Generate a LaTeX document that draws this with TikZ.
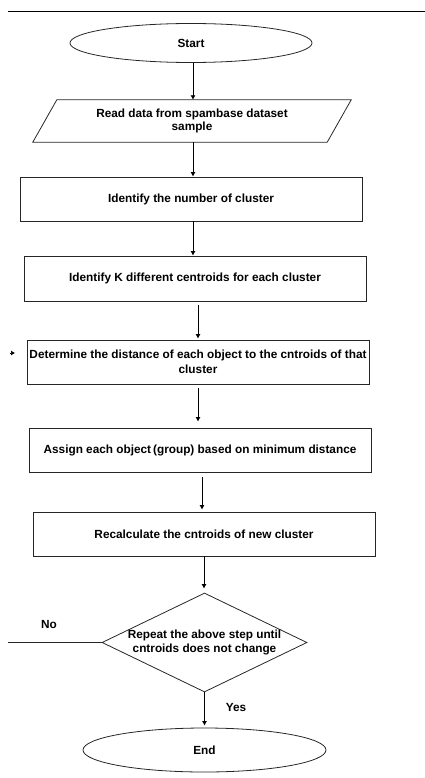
\documentclass[tikz,border=0pt]{standalone}
\usepackage{fontspec}
\setmainfont{Liberation Sans}
\usetikzlibrary{shapes.geometric,arrows.meta,calc}
\begin{document}
\begin{tikzpicture}[x=1pt,y=-1pt,
  every node/.style={font=\fontsize{11.8}{14.5}\selectfont\bfseries},
  line/.style={draw=black!85,line width=0.8pt},
  arr/.style={line width=0.8pt,-{Latex[length=4.5pt,width=5pt]}},
  boxnode/.style={line,rectangle,minimum width=342pt,minimum height=44pt,inner sep=2pt,align=center},
  ovalnode/.style={line,ellipse,inner sep=0pt},
  lbl/.style={inner sep=0pt}]
\useasboundingbox (0,0) rectangle (425,778);
% top rule
\coordinate (tl) at (8,11);
\coordinate (tr) at (425,11);
\draw[line width=0.8pt] (tl) -- (tr);
% nodes
\node[ovalnode,minimum width=242pt,minimum height=39pt] (start) at (191,43) {Start};
\node[inner sep=0pt,minimum width=294pt,minimum height=42pt,align=center,font=\fontsize{11.8}{13}\selectfont\bfseries] (read) at (192,121) {Read data from spambase dataset\\sample};
\draw[line] ($(read.north west)+(12,0)$) -- ($(read.north east)+(12,0)$) -- ($(read.south east)+(-12,0)$) -- ($(read.south west)+(-12,0)$) -- cycle;
\node[boxnode] (n1) at (191,199) {Identify the number of cluster};
\node[boxnode,minimum height=45pt] (n2) at (195,278.5) {Identify K different centroids for each cluster};
\node[boxnode] (n3) at (198,362) {Determine the distance of each object to the cntroids of that\\cluster};
\node[boxnode] (n4) at (200,450) {Assign each object\,(group) based on minimum distance};
\node[boxnode] (n5) at (204,534) {Recalculate the cntroids of new cluster};
\node[line,diamond,minimum width=205pt,minimum height=99pt,inner sep=0pt] (dec) at (204.5,642.5) {};
\node[lbl,align=center] (dectext) at (dec.center) {Repeat the above step until\\cntroids does not change};
\node[ovalnode,minimum width=243pt,minimum height=44pt] (end) at (204.5,750) {End};
% arrow x positions
\coordinate (xa) at (193,0);
\coordinate (xb) at (198,0);
\coordinate (xc) at (202,0);
\coordinate (xd) at (204,0);
\draw[arr] (start.south -| xa) -- (read.north -| xa);
\draw[arr] (read.south -| xa) -- (n1.north -| xa);
\draw[arr] (n1.south -| xa) -- (n2.north -| xa);
\draw[arr,shorten <=4pt,shorten >=1pt] (n2.south -| xb) -- (n3.north -| xb);
\draw[arr,shorten <=4pt,shorten >=6pt] (n3.south -| xb) -- (n4.north -| xb);
\draw[arr,shorten <=5pt,shorten >=2pt] (n4.south -| xc) -- (n5.north -| xc);
\draw[arr,shorten >=4pt] (n5.south -| xd) -- (dec.north -| xd);
\draw[arr,shorten >=2pt] (dec.south) -- (end.north);
% no branch
\coordinate (noend) at (8,642.5);
\draw[line] (dec.west) -- (noend);
\node[lbl] (no) at (49,624) {No};
\node[lbl] (yes) at (236,707) {Yes};
% loop arrow tip
\coordinate (la) at (10,353);
\coordinate (lb) at (15,353);
\draw[line width=0.6pt,-{Latex[length=4pt,width=5pt]}] (la) -- (lb);
\end{tikzpicture}
\end{document}
